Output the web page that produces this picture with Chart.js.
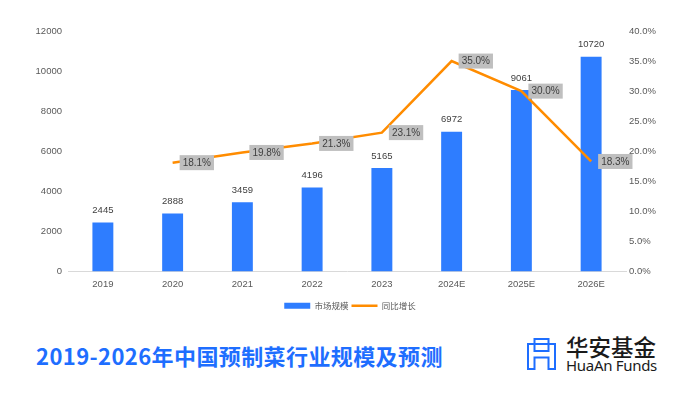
<!DOCTYPE html>
<html>
<head>
<meta charset="utf-8">
<script src="https://cdn.jsdelivr.net/npm/chart.js@4.4.1/dist/chart.umd.min.js"></script>
<style>
  html, body { margin:0; padding:0; background:#fff; }
  #wrap { position:relative; width:700px; height:394px; overflow:hidden; background:#fff; }
  #chartBox { position:absolute; left:0; top:0; width:700px; height:320px; }
  #title { position:absolute; left:36px; top:340px; font-family:"Noto Sans CJK SC", sans-serif; font-weight:700; font-size:22px; line-height:30px; color:#1E6EFF; white-space:nowrap; letter-spacing:0.4px; }
  #logoIcon { position:absolute; left:526px; top:337px; }
  #logoCn { position:absolute; left:566px; top:334px; font-family:"Noto Sans CJK SC", sans-serif; font-weight:500; font-size:22.5px; line-height:24px; color:#1a1a1a; white-space:nowrap; }
  #logoEn { position:absolute; left:566px; top:356px; font-family:"Noto Sans", sans-serif; font-size:15px; line-height:18px; color:#1a1a1a; white-space:nowrap; letter-spacing:-0.3px; }
</style>
</head>
<body>
<div id="wrap">
  <div id="chartBox"><canvas id="c"></canvas></div>
  <div id="title">2019-2026年中国预制菜行业规模及预测</div>
  <svg id="logoIcon" width="34" height="36" viewBox="0 0 34 36">
    <g fill="none" stroke="#1E6EFF" stroke-width="2">
      <rect x="8.5" y="2" width="14" height="5"/>
      <path d="M2,32 V7 H29 V32 H22.5 V20.5 H8.5 V32 Z"/>
      <rect x="8.5" y="7" width="14" height="7"/>
    </g>
  </svg>
  <div id="logoCn">华安基金</div>
  <div id="logoEn">HuaAn Funds</div>
</div>
<script>
const categories = ["2019","2020","2021","2022","2023","2024E","2025E","2026E"];
const marketSize = [2445, 2888, 3459, 4196, 5165, 6972, 9061, 10720];
const yoyGrowth = [null, 18.1, 19.8, 21.3, 23.1, 35.0, 30.0, 18.3];
const leftTicks = [0, 2000, 4000, 6000, 8000, 10000, 12000];
const rightTicks = [0, 5, 10, 15, 20, 25, 30, 35, 40];

const BLUE = "#2E7DFF";
const ORANGE = "#FF8C00";
const tickFont = { family: "'Liberation Sans', sans-serif", size: 9.5 };

const labelPlugin = {
  id: "valueLabels",
  afterDatasetsDraw(chart) {
    const ctx = chart.ctx;
    ctx.save();
    const barMeta = chart.getDatasetMeta(0);
    ctx.font = "9.5px 'Liberation Sans', sans-serif";
    ctx.fillStyle = "#404040";
    ctx.textAlign = "center";
    ctx.textBaseline = "middle";
    barMeta.data.forEach((el, i) => {
      ctx.fillText(String(marketSize[i]), el.x, el.y - 12);
    });
    const lineMeta = chart.getDatasetMeta(1);
    ctx.font = "10px 'Liberation Sans', sans-serif";
    lineMeta.data.forEach((el, i) => {
      const v = yoyGrowth[i];
      if (v === null || v === undefined) return;
      const txt = v.toFixed(1) + "%";
      const w = ctx.measureText(txt).width + 6;
      const h = 15;
      const x0 = el.x + 7;
      const y0 = el.y - h / 2;
      ctx.fillStyle = "#BFBFBF";
      ctx.fillRect(x0, y0, w, h);
      ctx.fillStyle = "#404040";
      ctx.textAlign = "left";
      ctx.fillText(txt, x0 + 3, el.y + 0.5);
    });
    ctx.restore();
  }
};

new Chart(document.getElementById("c"), {
  data: {
    labels: categories,
    datasets: [
      {
        type: "bar",
        label: "市场规模",
        data: marketSize,
        backgroundColor: BLUE,
        borderWidth: 0,
        barPercentage: 0.3,
        categoryPercentage: 1.0,
        yAxisID: "y",
        order: 2
      },
      {
        type: "line",
        label: "同比增长",
        data: yoyGrowth,
        borderColor: ORANGE,
        backgroundColor: ORANGE,
        borderWidth: 2.5,
        pointRadius: 0,
        tension: 0,
        spanGaps: false,
        yAxisID: "y1",
        order: 1
      }
    ]
  },
  options: {
    responsive: true,
    maintainAspectRatio: false,
    animation: false,
    layout: { padding: { top: 31, left: 0, right: 0, bottom: 0 } },
    plugins: {
      legend: {
        position: "bottom",
        labels: {
          usePointStyle: true,
          pointStyleWidth: 26,
          boxHeight: 6,
          padding: 3,
          color: "#595959",
          font: { family: "'Noto Sans CJK SC', sans-serif", size: 8.5 },
          generateLabels(chart) {
            return chart.data.datasets.map((ds, i) => ({
              text: ds.label,
              fillStyle: i === 0 ? BLUE : ORANGE,
              strokeStyle: i === 0 ? BLUE : ORANGE,
              lineWidth: i === 0 ? 0 : 2.5,
              pointStyle: i === 0 ? "rect" : "line",
              hidden: false,
              datasetIndex: i,
              fontColor: "#595959"
            }));
          }
        }
      },
      tooltip: { enabled: false }
    },
    scales: {
      x: {
        grid: { display: false, drawTicks: false },
        border: { display: true, color: "#D9D9D9", width: 1 },
        ticks: { color: "#595959", font: tickFont, padding: 7, maxRotation: 0 },
        afterFit(s) { s.height = 27; }
      },
      y: {
        position: "left",
        min: 0, max: 12000,
        afterBuildTicks(s) { s.ticks = leftTicks.map(v => ({ value: v })); },
        grid: { display: false, drawTicks: false },
        border: { display: false },
        ticks: { color: "#595959", font: tickFont, padding: 6, callback: v => String(v) },
        afterFit(s) { s.width = 68; }
      },
      y1: {
        position: "right",
        min: 0, max: 40,
        afterBuildTicks(s) { s.ticks = rightTicks.map(v => ({ value: v })); },
        grid: { display: false, drawTicks: false },
        border: { display: false },
        ticks: { color: "#595959", font: tickFont, padding: 3, callback: v => Number(v).toFixed(1) + "%" },
        afterFit(s) { s.width = 74; }
      }
    }
  },
  plugins: [labelPlugin]
});
</script>
</body>
</html>
